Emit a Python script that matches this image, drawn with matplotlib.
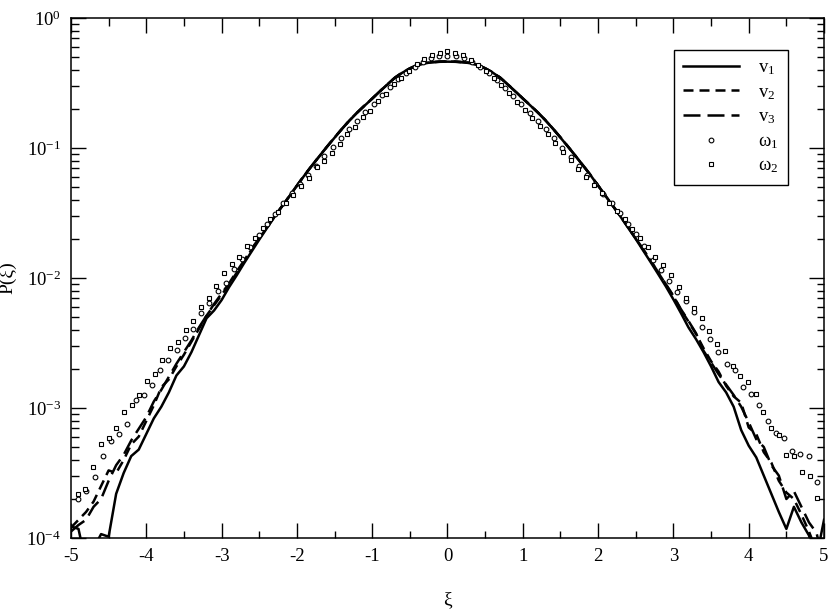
import matplotlib
matplotlib.use("Agg")
import matplotlib.pyplot as plt
import numpy as np
from matplotlib.ticker import MultipleLocator, LogLocator, FuncFormatter, NullFormatter

plt.rcParams["font.family"] = ["Liberation Serif", "DejaVu Serif"]
plt.rcParams["mathtext.fontset"] = "custom"
plt.rcParams["mathtext.rm"] = "Liberation Serif"
plt.rcParams["mathtext.it"] = "Liberation Serif:italic"
plt.rcParams["axes.unicode_minus"] = False

# bin centres of the velocity pdfs (xi = -5 ... 5, step 0.1)
xi_v = np.linspace(-5, 5, 101)

# log10 P(xi)
v1_log = [
    -3.91, -3.93, -4.20, -4.08, -3.97, -3.99, -3.66, -3.50, -3.37, -3.32,
    -3.20, -3.08, -2.99, -2.88, -2.75, -2.68, -2.57, -2.44, -2.31, -2.25,
    -2.17, -2.07, -1.98, -1.885, -1.795, -1.705, -1.618, -1.532, -1.452, -1.372,
    -1.291, -1.211, -1.136, -1.063, -0.991, -0.921, -0.853, -0.788, -0.729, -0.674,
    -0.621, -0.566, -0.513, -0.461, -0.421, -0.389, -0.363, -0.348, -0.341, -0.337,
    -0.336,
    -0.337, -0.341, -0.347, -0.362, -0.388, -0.420, -0.460, -0.512, -0.565, -0.620,
    -0.673, -0.728, -0.787, -0.852, -0.920, -0.990, -1.062, -1.135, -1.210, -1.290,
    -1.370, -1.450, -1.530, -1.615, -1.700, -1.790, -1.880, -1.972, -2.065, -2.165,
    -2.270, -2.380, -2.470, -2.570, -2.680, -2.800, -2.880, -2.990, -3.170, -3.290,
    -3.380, -3.520, -3.660, -3.800, -3.930, -3.760, -3.880, -3.980, -4.150, -3.860,
]
v2_log = [
    -3.92, -3.86, -3.80, -3.72, -3.60, -3.48, -3.50, -3.40, -3.28, -3.22,
    -3.10, -2.98, -2.84, -2.78, -2.68, -2.59, -2.49, -2.39, -2.29, -2.21,
    -2.13, -2.05, -1.96, -1.87, -1.78, -1.695, -1.612, -1.530, -1.450, -1.371,
    -1.290, -1.210, -1.135, -1.062, -0.990, -0.920, -0.852, -0.787, -0.728, -0.673,
    -0.620, -0.565, -0.512, -0.460, -0.420, -0.388, -0.362, -0.347, -0.340, -0.336,
    -0.335,
    -0.336, -0.340, -0.346, -0.361, -0.387, -0.419, -0.459, -0.511, -0.564, -0.619,
    -0.672, -0.727, -0.786, -0.851, -0.919, -0.989, -1.061, -1.134, -1.209, -1.289,
    -1.368, -1.448, -1.528, -1.612, -1.697, -1.783, -1.870, -1.960, -2.050, -2.140,
    -2.245, -2.335, -2.430, -2.540, -2.640, -2.720, -2.830, -2.910, -2.960, -3.150,
    -3.200, -3.340, -3.420, -3.560, -3.650, -3.700, -3.820, -3.950, -4.100, -4.300,
]
v3_log = [
    -3.95, -3.90, -3.86, -3.76, -3.70, -3.56, -3.44, -3.36, -3.25, -3.16,
    -3.07, -2.95, -2.86, -2.76, -2.66, -2.57, -2.48, -2.38, -2.29, -2.20,
    -2.12, -2.04, -1.95, -1.865, -1.775, -1.692, -1.610, -1.529, -1.449, -1.370,
    -1.289, -1.209, -1.134, -1.061, -0.989, -0.919, -0.851, -0.786, -0.727, -0.672,
    -0.619, -0.564, -0.511, -0.459, -0.419, -0.387, -0.361, -0.346, -0.339, -0.335,
    -0.334,
    -0.335, -0.339, -0.345, -0.360, -0.386, -0.418, -0.458, -0.510, -0.563, -0.618,
    -0.671, -0.726, -0.785, -0.850, -0.918, -0.988, -1.060, -1.133, -1.208, -1.288,
    -1.367, -1.447, -1.527, -1.610, -1.695, -1.780, -1.868, -1.958, -2.048, -2.138,
    -2.240, -2.330, -2.425, -2.560, -2.650, -2.740, -2.820, -2.900, -2.990, -3.110,
    -3.240, -3.300, -3.440, -3.520, -3.700, -3.640, -3.760, -3.880, -3.960, -4.200,
]

# vorticity pdfs have their own bins
dxi_w1 = 0.109
xi_w1 = dxi_w1 * np.arange(-45, 46)
w1_log = [
    -3.70, -3.64, -3.53, -3.37, -3.25, -3.20, -3.12, -2.94, -2.90, -2.82,
    -2.71, -2.63, -2.55, -2.46, -2.39, -2.27, -2.19, -2.10, -2.036, -1.933,
    -1.85, -1.764, -1.67, -1.585, -1.505, -1.425, -1.35, -1.275, -1.205, -1.135,
    -1.065, -0.995, -0.925, -0.856, -0.79, -0.725, -0.66, -0.595, -0.532, -0.472,
    -0.42, -0.375, -0.338, -0.31, -0.294,
    -0.29,
    -0.296, -0.308, -0.335, -0.378, -0.425, -0.475, -0.535, -0.598, -0.664, -0.728,
    -0.790, -0.855, -0.926, -0.997, -1.068, -1.139, -1.21, -1.28, -1.352, -1.425,
    -1.50, -1.583, -1.665, -1.754, -1.862, -1.94, -2.02, -2.11, -2.18, -2.26,
    -2.38, -2.47, -2.57, -2.66, -2.71, -2.84, -2.89, -2.98, -3.10, -3.19,
    -3.23, -3.33, -3.35, -3.37, -3.57,
]

dxi_w2 = 0.1023
xi_w2 = dxi_w2 * np.arange(-48, 49)
w2_log = [
    -3.66, -3.62, -3.45, -3.28, -3.23, -3.15, -3.03, -2.98, -2.90, -2.79,
    -2.74, -2.63, -2.54, -2.49, -2.40, -2.33, -2.22, -2.156, -2.059, -1.959,
    -1.895, -1.836, -1.754,
    -1.69, -1.615, -1.55, -1.49, -1.425, -1.36, -1.295, -1.228, -1.15, -1.10,
    -1.035, -0.967, -0.89, -0.838, -0.765, -0.712, -0.64, -0.585, -0.51, -0.463,
    -0.41, -0.355, -0.318, -0.285, -0.267,
    -0.251,
    -0.267, -0.285, -0.32, -0.36, -0.41, -0.462, -0.518, -0.58, -0.643, -0.71,
    -0.77, -0.832, -0.895, -0.962, -1.028, -1.093, -1.16, -1.22, -1.288, -1.35,
    -1.42, -1.485, -1.55, -1.62, -1.695,
    -1.764, -1.836, -1.90, -1.98, -2.07, -2.15, -2.23, -2.31, -2.405, -2.51,
    -2.56, -2.68, -2.75, -2.80, -2.89, -3.03, -3.15, -3.21, -3.36, -3.37,
    -3.49, -3.52, -3.69,
]

labels = ["v$_1$", "v$_2$", "v$_3$", "ω$_1$", "ω$_2$"]

fig = plt.figure(figsize=(8.3, 6.12), dpi=100)
ax = fig.add_axes([0.0855, 0.1209, 0.9073, 0.8497])

lw = 1.8
ax.plot(xi_v, 10 ** np.array(v1_log), color="black", lw=lw, label=labels[0])
ax.plot(xi_v, 10 ** np.array(v2_log), color="black", lw=lw, dashes=(4.0, 2.4), label=labels[1])
ax.plot(xi_v, 10 ** np.array(v3_log), color="black", lw=lw, dashes=(6.8, 2.8), label=labels[2])
ax.plot(xi_w1, 10 ** np.array(w1_log), ls="none", marker="o", ms=3.4, mfc="white",
        mec="black", mew=0.8, label=labels[3])
ax.plot(xi_w2, 10 ** np.array(w2_log), ls="none", marker="s", ms=3.2, mfc="white",
        mec="black", mew=0.8, label=labels[4])

ax.set_yscale("log")
ax.set_xlim(-5, 5)
ax.set_ylim(1e-4, 1)

ax.xaxis.set_major_locator(MultipleLocator(1))
ax.xaxis.set_minor_locator(MultipleLocator(0.5))
ax.yaxis.set_major_locator(LogLocator(base=10, numticks=10))
ax.yaxis.set_minor_locator(LogLocator(base=10, subs=np.arange(2, 10), numticks=10))
ax.yaxis.set_minor_formatter(NullFormatter())
ax.yaxis.set_major_formatter(FuncFormatter(lambda v, p: "10$^{%d}$" % round(np.log10(v))))
ax.xaxis.set_major_formatter(FuncFormatter(lambda v, p: "%d" % round(v)))

ax.tick_params(which="both", direction="in", top=True, right=True, width=1.0,
               labelsize=13.5)
ax.tick_params(which="major", length=10.8)
ax.tick_params(which="minor", length=5.4)
ax.tick_params(axis="x", pad=7)
ax.tick_params(axis="y", pad=7)
for s in ax.spines.values():
    s.set_linewidth(1.1)

ax.set_xlabel("ξ", fontsize=14)
ax.set_ylabel("P(ξ)", fontsize=14)
ax.xaxis.set_label_coords(0.5, -0.102)
ax.yaxis.set_label_coords(-0.072, 0.5)

leg = ax.legend(loc="upper right", bbox_to_anchor=(0.952, 0.9385), borderaxespad=0,
                fontsize=13.5, handlelength=3.0, handletextpad=1.0, labelspacing=0.36,
                borderpad=0.5, numpoints=1, fancybox=False, framealpha=1,
                edgecolor="black")
leg.get_frame().set_linewidth(1.0)

fig.savefig("out.png", dpi=100)
